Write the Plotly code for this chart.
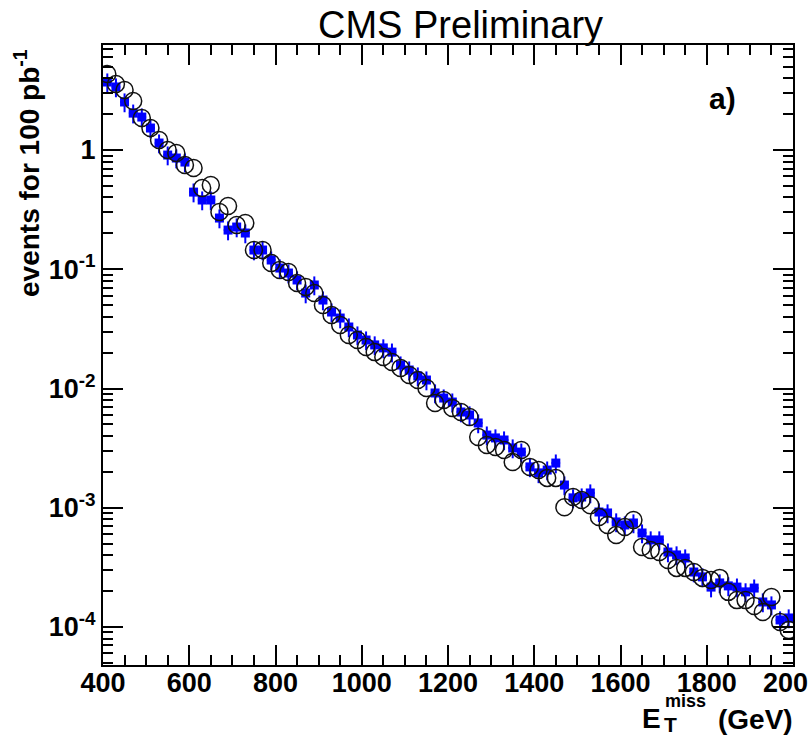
import plotly.graph_objects as go

# bin centres (GeV), 20 GeV bins from 400 to 2000
et_miss = list(range(410, 2000, 20))

# open black circles
sample_circles = [
    4.34, 3.58, 3.19, 2.58, 1.855, 1.53, 1.213, 1.0, 0.944, 0.748,
    0.707, 0.480, 0.509, 0.302, 0.339, 0.235, 0.244, 0.145, 0.145, 0.1128,
    0.0986, 0.0948, 0.0767, 0.0710, 0.0632, 0.0501, 0.0413, 0.0341, 0.0281, 0.0255,
    0.0223, 0.0202, 0.0184, 0.0167, 0.01485, 0.01297, 0.01178, 0.01010, 0.00755, 0.00801,
    0.00686, 0.00635, 0.00577, 0.00392, 0.00336, 0.00323, 0.00305, 0.00242, 0.00305, 0.00220,
    0.00207, 0.00178, 0.00178, 0.00101, 0.00123, 0.00116, 0.00105, 0.000837, 0.000717, 0.000591,
    0.000690, 0.000790, 0.000469, 0.000442, 0.000425, 0.000365, 0.000313, 0.000313, 0.000289, 0.000258,
    0.000248, 0.000258, 0.000197, 0.000168, 0.000168, 0.000150, 0.0001336, 0.0001785, 0.0001101, 0.0000944,
]

# blue filled squares
sample_squares = [
    3.72, 3.38, 2.53, 2.04, 1.891, 1.53, 1.145, 0.908, 0.857, 0.793,
    0.444, 0.381, 0.381, 0.269, 0.2133, 0.2261, 0.2014, 0.145, 0.145, 0.1196,
    0.1024, 0.0930, 0.0813, 0.0632, 0.0738, 0.0552, 0.0438, 0.0390, 0.0328, 0.0281,
    0.0255, 0.0232, 0.0219, 0.0202, 0.01574, 0.01429, 0.01273, 0.01178, 0.00917, 0.00832,
    0.00770, 0.00635, 0.00600, 0.00514, 0.00407, 0.00385, 0.00370, 0.00317, 0.00293, 0.00220,
    0.00196, 0.00207, 0.00237, 0.00155, 0.00121, 0.00123, 0.00133, 0.000921, 0.000904, 0.000760,
    0.000717, 0.000745, 0.000614, 0.000537, 0.000537, 0.000425, 0.000402, 0.000379, 0.000289, 0.000263,
    0.000216, 0.000234, 0.000221, 0.000216, 0.000197, 0.000212, 0.000162, 0.000153, 0.0001145, 0.000119,
]

x_tickvals = [400, 600, 800, 1000, 1200, 1400, 1600, 1800, 2000]
x_ticktext = ["400", "600", "800", "1000", "1200", "1400", "1600", "1800", "200\u2007"]
y_tickvals = [1e-4, 1e-3, 1e-2, 1e-1, 1]
y_ticktext = ["10<sup>-4</sup>", "10<sup>-3</sup>", "10<sup>-2</sup>", "10<sup>-1</sup>", "1"]

FONT = "Liberation Sans, Arial, sans-serif"

fig = go.Figure()

fig.add_trace(go.Scatter(
    x=et_miss, y=sample_squares, mode="markers",
    marker=dict(symbol="square", size=9, color="#0000ff"),
    error_y=dict(type="percent", value=18, color="#0000ff", thickness=2, width=0),
    error_x=dict(type="constant", value=10, color="#0000ff", thickness=2, width=0),
    showlegend=False,
))
fig.add_trace(go.Scatter(
    x=et_miss, y=sample_circles, mode="markers",
    marker=dict(symbol="circle-open", size=17, color="#111111", line=dict(width=1.5, color="#111111")),
    showlegend=False,
))

# minor tick positions (axis decoration)
y_minor = [m * 10.0 ** e for e in range(-5, 1) for m in range(2, 10)]

fig.update_xaxes(
    range=[400, 2000], showline=True, linecolor="black", linewidth=2, mirror="ticks",
    ticks="inside", ticklen=20, tickwidth=2, tickcolor="black",
    tickmode="array", tickvals=x_tickvals, ticktext=x_ticktext,
    ticklabeloverflow="allow", ticklabelstandoff=-7, automargin=False,
    tickfont=dict(family=FONT, size=27, color="black", weight="bold"),
    minor=dict(ticks="inside", ticklen=10, tickwidth=2, tickcolor="black", dtick=50, showgrid=False),
    showgrid=False, zeroline=False,
)
fig.update_yaxes(
    type="log", range=[-4.319, 0.881], showline=True, linecolor="black", linewidth=2, mirror="ticks",
    ticks="inside", ticklen=20, tickwidth=2, tickcolor="black", automargin=False,
    tickmode="array", tickvals=y_tickvals, ticktext=y_ticktext,
    tickfont=dict(family=FONT, size=27, color="black", weight="bold"),
    minor=dict(ticks="inside", ticklen=10, tickwidth=2, tickcolor="black",
               tickmode="array", tickvals=y_minor, showgrid=False),
    showgrid=False, zeroline=False,
)

L, R, T, B = 103, 18, 45, 70
W, H = 811, 735
pw, ph = W - L - R, H - T - B


def px(xp):
    return (xp - L) / pw


def py(yp):
    return (H - B - yp) / ph


annots = [
    dict(text="CMS Preliminary", x=px(460), y=py(25), font=dict(family=FONT, size=38, color="black")),
    dict(text="<b>a)</b>", x=px(722), y=py(99), font=dict(family=FONT, size=30, color="black")),
    dict(text="<b>events for 100 pb<sup>-1</sup></b>", x=px(27), y=py(173), textangle=-90,
         font=dict(family=FONT, size=28, color="black")),
    dict(text="<b>E</b>", x=px(651), y=py(718), font=dict(family=FONT, size=28, color="black")),
    dict(text="<b>T</b>", x=px(670), y=py(724), font=dict(family=FONT, size=21, color="black")),
    dict(text="<b>miss</b>", x=px(685), y=py(701), font=dict(family=FONT, size=18, color="black")),
    dict(text="<b>(GeV)</b>", x=px(755), y=py(719), font=dict(family=FONT, size=28, color="black")),
]
for a in annots:
    a.update(xref="paper", yref="paper", showarrow=False, xanchor="center", yanchor="middle")

fig.update_layout(
    width=W, height=H, margin=dict(l=L, r=R, t=T, b=B, autoexpand=False),
    paper_bgcolor="white", plot_bgcolor="white",
    annotations=annots, showlegend=False,
)

fig.write_html("out.html")
